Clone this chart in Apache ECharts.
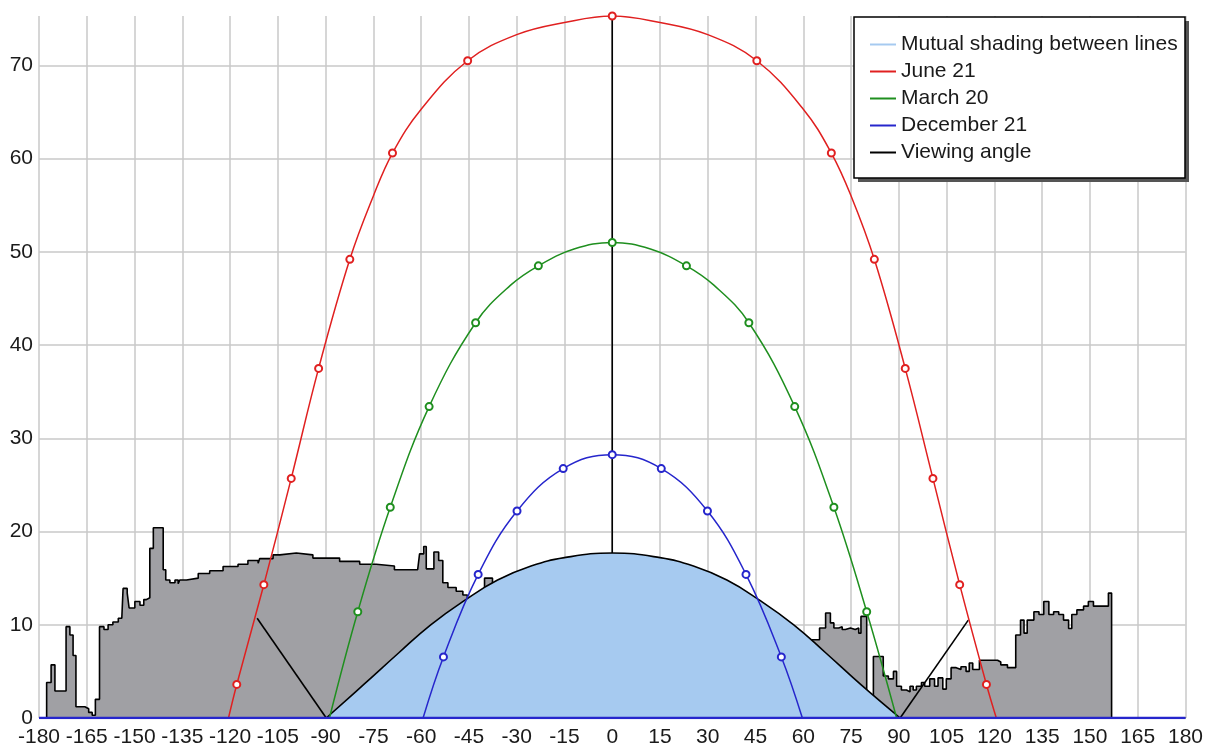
<!DOCTYPE html>
<html>
<head>
<meta charset="utf-8">
<script src="https://cdn.jsdelivr.net/npm/echarts@6/dist/echarts.min.js"></script>
<style>
html,body{margin:0;padding:0;background:#fff;}
#chart{width:1206px;height:749px;}
</style>
</head>
<body>
<div id="chart"></div>
<script>
// ---- Data (azimuth in degrees, altitude in degrees) ----
const xMin = -180, xMax = 180, xStep = 15;
const yMin = 0, yMax = 75.3, yStep = 10;

const legendNames = ['Mutual shading between lines', 'June 21', 'March 20', 'December 21', 'Viewing angle'];

// Far horizon profile (grey, stepped)
const horizon = [
  [-180,0],[-177.6,3.8],[-176.2,5.7],[-175.0,2.9],[-171.5,9.8],[-170.3,8.9],[-169.3,6.7],[-168.4,1.2],
  [-165.6,1.0],[-164.4,0.6],[-163.3,0.3],[-162.3,2.0],[-161.0,9.8],[-159.6,9.5],[-158.3,10.0],[-156.8,10.3],
  [-155.1,10.7],[-154.0,10.9],[-153.6,13.9],[-152.3,13.4],[-151.7,11.8],[-149.9,12.5],[-148.3,12.1],[-147.1,12.7],
  [-146.3,12.9],[-145.2,18.2],[-144.1,20.4],[-141.0,15.9],[-140.2,14.8],[-138.9,14.5],[-137.3,14.8],[-136.3,14.4],
  [-135.8,14.8],[-133.7,15.0],[-130.0,15.5],[-126.4,15.8],[-122.2,16.25],[-117.5,16.5],[-114.4,16.9],[-111.2,16.6],
  [-110.7,17.1],[-106.5,17.5],[-104.4,17.7],[-99.2,17.5],[-94.0,17.15],[-85.6,16.8],[-79.3,16.5],[-74.1,16.3],
  [-68.4,15.9],[-61.1,15.7],[-60.5,17.6],[-59.2,18.4],[-58.4,16.0],[-56.0,17.8],[-54.5,16.9],[-53.2,14.5],
  [-51.6,14.0],[-49.0,13.6],[-46.9,13.2],[-45.5,12.0],[-40.1,15.0],[-37.6,6.0],[58.0,6.0],[61.0,8.4],
  [65.1,9.66],[67.0,11.27],[68.5,10.2],[69.6,9.66],[71.1,9.8],[72.2,9.5],[73.2,9.66],[74.8,9.5],
  [76.3,9.66],[77.4,9.1],[78.1,10.9],[79.9,2.0],[82.0,6.6],[85.1,4.5],[86.7,4.2],[88.3,5.0],
  [89.3,3.4],[90.8,3.0],[92.4,2.8],[93.5,3.4],[94.5,3.0],[95.5,3.4],[97.1,3.8],[98.1,3.4],
  [99.7,4.2],[101.2,3.4],[102.3,4.3],[103.8,3.1],[104.9,4.2],[106.4,5.4],[108.0,5.2],[109.5,5.5],
  [111.1,5.0],[112.1,5.9],[113.2,5.2],[115.3,6.2],[121.0,6.0],[122.0,5.7],[124.1,5.4],[126.7,8.9],
  [128.2,10.5],[129.3,9.1],[130.3,10.5],[132.4,11.4],[134.0,11.1],[135.5,12.5],[137.1,11.1],[138.6,11.4],
  [140.2,11.1],[141.7,10.5],[143.3,9.6],[144.3,11.1],[145.9,11.6],[148.0,12.0],[149.5,12.5],[151.1,12.0],
  [155.8,13.4],[156.8,0],[180,0]
];

// Mutual shading limit / viewing angle arc
const shadingArc = [
  [-89.8,0],[-78,3.6],[-67,7.0],[-57,10.0],[-46,12.7],[-36,14.8],[-25.5,16.3],[-15,17.2],[0,17.7],
  [15,17.2],[25.5,16.3],[36,14.8],[46,12.7],[57,10.0],[67,7.0],[78,3.6],[90.4,0]
];
const viewLeft = [[-111.5,10.7],[-89.8,0]];
const viewRight = [[90.4,0],[111.8,10.5]];
const viewVertical = [[0,17.7],[0,75.3]];

// Sun paths: [azimuth, altitude, hourly marker (1) or plain curve point (0)]
const june21 = [
  [-120.5,0,0],[-117.9,3.6,1],[-109.4,14.3,1],[-100.8,25.7,1],[-92.2,37.5,1],[-82.4,49.2,1],[-75,56.0,0],
  [-69.0,60.6,1],[-60,65.3,0],[-45.4,70.5,1],[-30,73.3,0],[-15,74.6,0],[0,75.3,1],[15,74.6,0],[30,73.3,0],
  [45.4,70.5,1],[60,65.3,0],[68.8,60.6,1],[75,56.0,0],[82.3,49.2,1],[92.0,37.5,1],[100.7,25.7,1],
  [109.1,14.3,1],[117.5,3.6,1],[120.6,0,0]
];
const march20 = [
  [-88.8,0,0],[-79.9,11.4,1],[-69.7,22.6,1],[-57.5,33.4,1],[-42.9,42.4,1],[-32,46.4,0],[-23.2,48.5,1],
  [-12,50.3,0],[0,51.0,1],[12,50.3,0],[23.3,48.5,1],[32,46.4,0],[42.9,42.4,1],[57.3,33.4,1],
  [69.6,22.6,1],[79.9,11.4,1],[89.3,0,0]
];
const december21 = [
  [-59.4,0,0],[-53.0,6.55,1],[-42.1,15.4,1],[-29.9,22.2,1],[-15.4,26.75,1],[0,28.25,1],
  [15.4,26.75,1],[29.9,22.2,1],[42.0,15.4,1],[53.1,6.55,1],[59.7,0,0]
];
// Horizon baseline (drawn in the December colour in the original)
const baseline = [[xMin,0],[xMax,0]];

// ---- Chart ----
const FONT = 'Liberation Sans, Arial, sans-serif';
const chart = echarts.init(document.getElementById('chart'), null, {renderer: 'canvas'});

function sunSeries(name, data, color) {
  return {
    name: name, type: 'line', data: data, smooth: 0.4,
    encode: {x: 0, y: 1},
    symbol: function (v) { return v[2] ? 'emptyCircle' : 'none'; },
    symbolSize: 7, showAllSymbol: true,
    lineStyle: {color: color, width: 1.5},
    itemStyle: {color: color, borderWidth: 1.3},
    z: 5
  };
}
function blackLine(data, smooth) {
  return {
    name: 'Viewing angle', type: 'line', data: data, smooth: smooth ? 0.45 : false,
    symbol: 'none', lineStyle: {color: '#000', width: 1.6}, itemStyle: {color: '#000'}, z: 4
  };
}

chart.setOption({
  animation: false,
  backgroundColor: '#fff',
  grid: {left: 39, right: 19, top: 16, bottom: 31, containLabel: false},
  graphic: [
    {type: 'rect', shape: {x: 858, y: 21, width: 331, height: 161}, style: {fill: '#555'}, z: 20, silent: true},
    {type: 'rect', shape: {x: 854, y: 17, width: 331, height: 161}, style: {fill: '#fff', stroke: '#000', lineWidth: 1.5}, z: 21, silent: true}
  ],
  legend: {
    data: legendNames,
    orient: 'vertical',
    left: 870, top: 34,
    icon: 'rect', itemWidth: 26, itemHeight: 2, itemGap: 6, itemTextGap: 8,
    padding: 0, z: 30,
    textStyle: {fontFamily: FONT, fontSize: 21, color: '#1a1a1a'},
    selectedMode: false
  },
  xAxis: {
    type: 'value', min: xMin, max: xMax, interval: xStep,
    axisLine: {show: false},
    axisTick: {show: false},
    axisLabel: {fontFamily: FONT, fontSize: 21, color: '#1a1a1a', margin: 9, showMinLabel: true, showMaxLabel: true},
    splitLine: {show: true, lineStyle: {color: '#c8c8c8', width: 1.5}}
  },
  yAxis: {
    type: 'value', min: yMin, max: yMax, interval: yStep,
    axisLine: {show: false}, axisTick: {show: false},
    axisLabel: {fontFamily: FONT, fontSize: 21, color: '#1a1a1a', margin: 6, showMaxLabel: false,
      formatter: function (v) { return (Math.abs(v % 10) < 1e-6) ? String(v) : ''; }},
    splitLine: {show: true, showMaxLine: false, lineStyle: {color: '#c8c8c8', width: 1.5}}
  },
  series: [
    {
      name: 'Horizon', type: 'line', step: 'end', data: horizon, symbol: 'none',
      lineStyle: {color: '#000', width: 1.6},
      areaStyle: {color: '#a0a0a4', opacity: 1}, z: 2
    },
    {
      name: 'Mutual shading between lines', type: 'line', data: shadingArc, smooth: 0.45, symbol: 'none',
      lineStyle: {width: 0, color: '#a6caf0'}, itemStyle: {color: '#a6caf0'},
      areaStyle: {color: '#a6caf0', opacity: 1}, z: 3
    },
    blackLine(shadingArc, true),
    blackLine(viewVertical, false),
    blackLine(viewLeft, false),
    blackLine(viewRight, false),
    sunSeries('June 21', june21, '#e02020'),
    sunSeries('March 20', march20, '#1f8f1f'),
    sunSeries('December 21', december21, '#2626cc'),
    {
      name: 'baseline', type: 'line', data: baseline, symbol: 'none',
      lineStyle: {color: '#2626cc', width: 2.5}, z: 6, silent: true
    }
  ]
});
</script>
</body>
</html>
